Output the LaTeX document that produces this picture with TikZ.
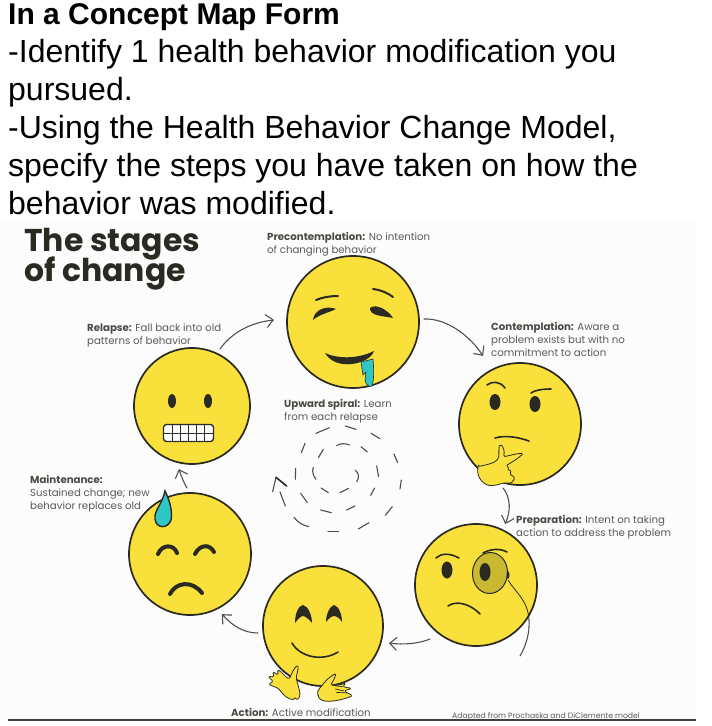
\documentclass[tikz,border=0pt]{standalone}
\usepackage{fontspec}
\setmainfont{Liberation Sans}
\newfontfamily\lab{Poppins}
\usetikzlibrary{arrows.meta,bending,shapes.geometric}
\definecolor{faceyel}{HTML}{F9E03A}
\definecolor{ink}{HTML}{2A2A22}
\definecolor{lab}{HTML}{5A5A5A}
\definecolor{teal}{HTML}{2FC6C6}
\definecolor{paper}{HTML}{FDFCFD}
\definecolor{mono}{HTML}{C9B830}
\tikzset{
 face/.style={circle,draw=ink,line width=1.7pt,fill=faceyel,inner sep=0pt,minimum size=#1},
 thin line/.style={draw=ink,line width=1.6pt,line cap=round},
 thick line/.style={draw=ink,line width=4pt,line cap=round},
 flow/.style={draw=lab!90!black,line width=1.1pt,line cap=round,-{Straight Barb[length=7pt,width=13pt,bend]}},
 dash seg/.style={draw=lab!85!black,line width=1.1pt,line cap=round},
 hand/.style={draw=ink,line width=.8pt,fill=faceyel,line join=round,rounded corners=1.5pt},
 head/.style={anchor=north west,inner sep=0pt,align=left,font=\fontsize{32}{38}\selectfont,text=black},
 caption/.style={anchor=north west,inner sep=0pt,align=left,text=lab,font=\lab\fontsize{10.2}{13}\selectfont},
 bigtitle/.style={anchor=base west,inner sep=0pt,text=ink,font=\lab\bfseries\fontsize{31.5}{32}\selectfont},
}
\newcommand{\B}[1]{{\bfseries\color{ink!85}#1}}
\begin{document}
\begin{tikzpicture}[x=1pt,y=-1pt]
\useasboundingbox (0,0) rectangle (712,726);
\fill[white] (0,0) rectangle (712,726);
\fill[paper] (0,222) rectangle (696,719);
\fill[ink!90] (8,718.5) rectangle (696,721);
% heading
\node[head] (h1) at (8,3) {{\fontsize{30}{38}\selectfont\bfseries In a Concept Map Form}\\-Identify 1 health behavior modification you\\pursued.\\-Using the Health Behavior Change Model,\\specify the steps you have taken on how the\\behavior was modified.};
\node[bigtitle] (title1) at (24,251) {The stages};
\node[bigtitle] (title2) at (24,281) {of change};
% faces
\node[face=132pt] (pre) at (353,322) {};
\node[face=122pt] (con) at (520,424) {};
\node[face=122pt] (prp) at (476,585) {};
\node[face=120pt] (act) at (323,626) {};
\node[face=122pt] (mnt) at (190,554) {};
\node[face=116pt] (rel) at (192,406) {};
% captions
\node[caption] (cpre) at (267,232) {\B{Precontemplation:} No intention\\of changing behavior};
\node[caption] (crel) at (87,324) {\B{Relapse:} Fall back into old\\patterns of behavior};
\node[caption] (ccon) at (491,322) {\B{Contemplation:} Aware a\\problem exists but with no\\commitment to action};
\node[caption] (cup) at (284,399) {\B{Upward spiral:} Learn\\from each relapse};
\node[caption] (cmnt) at (30,475) {\B{Maintenance:}\\Sustained change; new\\behavior replaces old};
\node[caption] (cprp) at (516,515) {\B{Preparation:} Intent on taking\\action to address the problem};
\node[caption] (cact) at (231,708) {\B{Action:} Active modification};
\node[caption,font=\lab\fontsize{7.7}{9}\selectfont] (cad) at (452,712.5) {Adapted from Prochaska and DiClemente model};
% pre face
\draw[thin line,line width=2pt] (316,300) .. controls (323,297) and (331,296) .. (338,296);
\fill[ink] (313,320) .. controls (314,310) and (326,305) .. (336,309) .. controls (328,313) and (320,314) .. (313,320) -- cycle;
\draw[thin line,line width=2pt] (373,289) .. controls (381,290) and (388,293) .. (393,297);
\fill[ink] (370,308) .. controls (376,303) and (388,310) .. (393,318) .. controls (384,316) and (369,316) .. (370,308) -- cycle;
\fill[ink] (325,353) .. controls (338,359) and (358,359) .. (374,351) .. controls (370,364) and (336,372) .. (325,353) -- cycle;
\path[fill=teal,draw=ink,line width=.6pt] (361,362) -- (373,359) .. controls (374,370) and (374,380) .. (372,386) .. controls (368,387) and (366,385) .. (365,380) -- (366,372) -- (363,375) -- cycle;
% contemplation face
\draw[thin line] (487,385) .. controls (492,381) and (500,381) .. (505,388);
\fill[ink] (495,402) ellipse (5.5 and 8);
\fill[ink] (535,404) ellipse (5.5 and 8);
\draw[thin line] (531,393) .. controls (535,390) and (543,389) .. (551,389);
\draw[thin line] (495,438) .. controls (505,435) and (518,437) .. (529,441);
\begin{scope}[shift={(470,435)},x=.3333pt,y=-.3333pt]
\path[hand] (25,95) .. controls (45,90) and (75,85) .. (85,70) .. controls (88,55) and (85,40) .. (90,28) .. controls (100,35) and (105,50) .. (100,65) .. controls (120,62) and (140,55) .. (160,55) .. controls (145,70) and (125,82) .. (108,92) -- (118,98) -- (112,104) -- (126,108) -- (118,116) -- (135,128) .. controls (130,138) and (125,143) .. (118,145) .. controls (100,142) and (85,150) .. (65,152) .. controls (40,150) and (18,125) .. (25,95) -- cycle;
\end{scope}
% preparation face
\draw[thin line] (436,558) .. controls (441,553) and (450,553) .. (459,558);
\fill[ink] (447,570) ellipse (5.5 and 8.5);
\node[ellipse,draw=ink,line width=1pt,fill=mono,inner sep=0pt,minimum width=35pt,minimum height=41pt,rotate=-5] (mon) at (490,573) {};
\fill[ink] (485,572) ellipse (5.5 and 9);
\draw[thin line] (483,553) .. controls (490,549) and (500,548) .. (507,552);
\fill[ink] (508,575) ellipse (1.5 and 4);
\draw[thin line] (448,606) .. controls (455,601) and (468,602) .. (480,614);
\draw[draw=ink,line width=.8pt] (508,580) .. controls (515,592) and (528,600) .. (529,620);
% action face
\fill[ink] (295,623) .. controls (295,614) and (298,606) .. (303,605) .. controls (308,606) and (312,615) .. (312,623) .. controls (309,619) and (305,616) .. (303,616) .. controls (301,616) and (298,619) .. (295,623) -- cycle;
\fill[ink] (326,622) .. controls (326,614) and (330,606) .. (334,605) .. controls (339,606) and (342,615) .. (342,622) .. controls (340,618) and (336,616) .. (334,616) .. controls (332,616) and (329,618) .. (326,622) -- cycle;
\draw[thin line] (292,643) .. controls (300,657) and (322,662) .. (338,652);
% maintenance face
\path[fill=teal,draw=ink,line width=1.4pt] (165,491) .. controls (172,505) and (172,515) .. (171,520) .. controls (168,529) and (156,529) .. (155,519) .. controls (154,510) and (162,505) .. (165,491) -- cycle;
\draw[thick line] (158,554) .. controls (162,544) and (174,544) .. (177,553);
\draw[thick line] (195,554) .. controls (200,544) and (210,544) .. (214,552);
\draw[thick line] (170,594) .. controls (176,582) and (192,580) .. (202,593);
% relapse face
\fill[ink] (172,401) ellipse (4 and 7);
\fill[ink] (208,401) ellipse (4 and 7);
\node[draw=ink,line width=1.3pt,fill=white,rounded corners=3pt,inner sep=0pt,minimum width=50pt,minimum height=17pt] (teeth) at (188.5,433) {};
\foreach \x in {172,180,188,196,204}{\draw[draw=ink,line width=.7pt] (\x,425) -- (\x,441);}
\draw[draw=ink,line width=.7pt] (164,433) -- (213,433);
% flow arrows
\coordinate (a1) at (220,349); \coordinate (a2) at (274,320);
\coordinate (b1) at (424,319); \coordinate (b2) at (483,356);
\coordinate (c1) at (503,488); \coordinate (c2) at (505,524);
\coordinate (d1) at (520,656); \coordinate (e1) at (430,639); \coordinate (e2) at (389,643);
\coordinate (f1) at (258,633); \coordinate (f2) at (222,614);
\coordinate (g1) at (187,488); \coordinate (g2) at (179,469);
\draw[flow] (a1) .. controls (232,332) and (252,322) .. (a2);
\draw[flow] (b1) .. controls (448,318) and (472,338) .. (b2);
\draw[flow] (c1) .. controls (511,498) and (511,512) .. (c2);
\draw[lab!90!black,line width=1.1pt,line cap=round] (529,620) .. controls (530,632) and (526,646) .. (d1);
\draw[flow] (e1) .. controls (418,644) and (402,645) .. (e2);
\draw[flow] (f1) .. controls (244,633) and (232,626) .. (f2);
\draw[flow] (g1) .. controls (184,483) and (181,476) .. (g2);
% spiral
\begin{scope}[shift={(260,390)},x=.3333pt,y=-.3333pt]
\foreach \a/\b/\c/\d in {168/130/208/113,256/108/288/118,333/130/360/146,402/192/413/218,424/270/420/297,397/350/376/376,327/398/295/417,236/424/204/424,76/348/60/306,107/235/106/268,135/160/124/188,190/178/175/203,303/170/322/186,350/228/356/260,344/294/332/316,285/348/260/360,214/368/182/360,142/338/122/310,183/294/205/308,240/308/266/295}{
 \draw[dash seg] (\a,\b) -- (\c,\d);}
\draw[dash seg] (146,410) .. controls (125,405) and (112,395) .. (102,382);
\draw[dash seg] (230,167) .. controls (240,160) and (255,159) .. (268,165);
\draw[dash seg] (160,232) .. controls (155,245) and (160,258) .. (168,268);
\draw[dash seg] (286,241) .. controls (298,250) and (298,265) .. (290,275);
\draw[dash seg] (38,305) -- (48,262);
\draw[draw=ink,line width=1.6pt,line cap=round] (48,262) -- (80,288);
\end{scope}
% hands
\begin{scope}[shift={(260,655)},x=.3333pt,y=-.3333pt]
\path[hand] (105,133) .. controls (85,135) and (70,120) .. (55,100) -- (25,88) -- (40,80) -- (24,64) -- (42,66) -- (38,50) -- (55,60) -- (52,44) .. controls (65,50) and (75,65) .. (88,72) .. controls (95,55) and (102,40) .. (113,30) .. controls (116,45) and (108,60) .. (110,75) .. controls (115,95) and (122,115) .. (118,127) .. controls (115,132) and (110,133) .. (105,133) -- cycle;
\path[hand] (175,125) .. controls (168,105) and (185,95) .. (195,80) .. controls (205,70) and (215,62) .. (228,55) .. controls (225,70) and (218,80) .. (212,90) .. controls (225,92) and (240,90) .. (258,84) -- (248,95) -- (275,100) -- (252,108) -- (278,122) .. controls (255,132) and (230,138) .. (205,139) .. controls (190,138) and (180,135) .. (175,125) -- cycle;
\draw[draw=ink,line width=.7pt] (222,92) -- (248,95) (226,102) -- (252,108) (228,112) -- (262,114);
\end{scope}
\end{tikzpicture}
\end{document}
